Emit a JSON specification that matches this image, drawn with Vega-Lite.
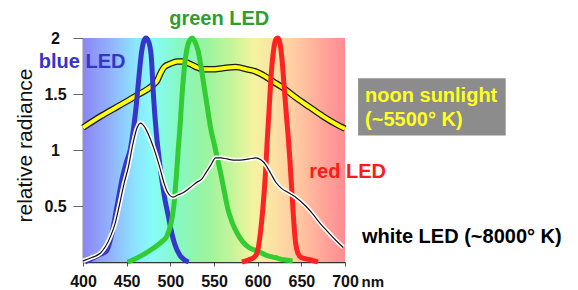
{
  "$schema": "https://vega.github.io/schema/vega-lite/v6.json",
  "autosize": "none",
  "width": 262,
  "height": 224,
  "padding": {"left": 83, "top": 38, "right": 233, "bottom": 28},
  "background": "white",
  "config": {"view": {"stroke": null}, "font": "Liberation Sans"},
  "datasets": {
    "curves": [
      {"s": "blue", "nm": 402, "v": 0}, {"s": "blue", "nm": 410, "v": 0.03}, {"s": "blue", "nm": 420, "v": 0.07}, {"s": "blue", "nm": 427, "v": 0.1}, {"s": "blue", "nm": 433, "v": 0.25}, {"s": "blue", "nm": 439, "v": 0.5}, {"s": "blue", "nm": 445, "v": 0.75}, {"s": "blue", "nm": 450, "v": 0.9}, {"s": "blue", "nm": 454, "v": 1.0}, {"s": "blue", "nm": 458, "v": 1.2}, {"s": "blue", "nm": 461, "v": 1.4}, {"s": "blue", "nm": 464, "v": 1.65}, {"s": "blue", "nm": 467, "v": 1.87}, {"s": "blue", "nm": 470, "v": 1.98}, {"s": "blue", "nm": 472, "v": 2.0}, {"s": "blue", "nm": 475, "v": 1.97}, {"s": "blue", "nm": 478, "v": 1.85}, {"s": "blue", "nm": 481, "v": 1.45}, {"s": "blue", "nm": 484, "v": 1.15}, {"s": "blue", "nm": 486, "v": 1.0}, {"s": "blue", "nm": 490, "v": 0.75}, {"s": "blue", "nm": 494, "v": 0.55}, {"s": "blue", "nm": 498, "v": 0.4}, {"s": "blue", "nm": 501, "v": 0.28}, {"s": "blue", "nm": 505, "v": 0.16}, {"s": "blue", "nm": 511, "v": 0.06}, {"s": "blue", "nm": 516, "v": 0.02}, {"s": "blue", "nm": 521, "v": 0},
      {"s": "green", "nm": 451, "v": 0}, {"s": "green", "nm": 460, "v": 0.03}, {"s": "green", "nm": 470, "v": 0.07}, {"s": "green", "nm": 480, "v": 0.12}, {"s": "green", "nm": 490, "v": 0.18}, {"s": "green", "nm": 496, "v": 0.23}, {"s": "green", "nm": 500, "v": 0.32}, {"s": "green", "nm": 504, "v": 0.5}, {"s": "green", "nm": 507, "v": 0.78}, {"s": "green", "nm": 509, "v": 1.0}, {"s": "green", "nm": 511, "v": 1.2}, {"s": "green", "nm": 514, "v": 1.55}, {"s": "green", "nm": 517, "v": 1.8}, {"s": "green", "nm": 521, "v": 1.96}, {"s": "green", "nm": 525, "v": 2.0}, {"s": "green", "nm": 528, "v": 1.97}, {"s": "green", "nm": 532, "v": 1.88}, {"s": "green", "nm": 535, "v": 1.75}, {"s": "green", "nm": 538, "v": 1.6}, {"s": "green", "nm": 542, "v": 1.4}, {"s": "green", "nm": 546, "v": 1.2}, {"s": "green", "nm": 550, "v": 1.06}, {"s": "green", "nm": 554, "v": 0.92}, {"s": "green", "nm": 558, "v": 0.78}, {"s": "green", "nm": 562, "v": 0.62}, {"s": "green", "nm": 566, "v": 0.47}, {"s": "green", "nm": 571, "v": 0.35}, {"s": "green", "nm": 577, "v": 0.25}, {"s": "green", "nm": 583, "v": 0.18}, {"s": "green", "nm": 590, "v": 0.13}, {"s": "green", "nm": 599, "v": 0.1}, {"s": "green", "nm": 610, "v": 0.06}, {"s": "green", "nm": 620, "v": 0.04}, {"s": "green", "nm": 630, "v": 0.02}, {"s": "green", "nm": 640, "v": 0.01},
      {"s": "red", "nm": 582, "v": 0}, {"s": "red", "nm": 590, "v": 0.02}, {"s": "red", "nm": 597, "v": 0.05}, {"s": "red", "nm": 600, "v": 0.1}, {"s": "red", "nm": 603, "v": 0.25}, {"s": "red", "nm": 606, "v": 0.48}, {"s": "red", "nm": 609, "v": 0.8}, {"s": "red", "nm": 611, "v": 1.09}, {"s": "red", "nm": 613, "v": 1.35}, {"s": "red", "nm": 615, "v": 1.62}, {"s": "red", "nm": 618, "v": 1.88}, {"s": "red", "nm": 621, "v": 1.99}, {"s": "red", "nm": 623, "v": 2.0}, {"s": "red", "nm": 625, "v": 1.97}, {"s": "red", "nm": 628, "v": 1.8}, {"s": "red", "nm": 630, "v": 1.6}, {"s": "red", "nm": 633, "v": 1.3}, {"s": "red", "nm": 635, "v": 1.12}, {"s": "red", "nm": 637, "v": 0.9}, {"s": "red", "nm": 639, "v": 0.65}, {"s": "red", "nm": 641, "v": 0.4}, {"s": "red", "nm": 643, "v": 0.2}, {"s": "red", "nm": 646, "v": 0.08}, {"s": "red", "nm": 650, "v": 0.04}, {"s": "red", "nm": 660, "v": 0.02}, {"s": "red", "nm": 669, "v": 0},
      {"s": "sun", "nm": 400, "v": 1.2}, {"s": "sun", "nm": 420, "v": 1.3}, {"s": "sun", "nm": 440, "v": 1.39}, {"s": "sun", "nm": 460, "v": 1.48}, {"s": "sun", "nm": 480, "v": 1.58}, {"s": "sun", "nm": 485, "v": 1.62}, {"s": "sun", "nm": 489, "v": 1.69}, {"s": "sun", "nm": 493, "v": 1.74}, {"s": "sun", "nm": 500, "v": 1.77}, {"s": "sun", "nm": 508, "v": 1.79}, {"s": "sun", "nm": 515, "v": 1.79}, {"s": "sun", "nm": 522, "v": 1.77}, {"s": "sun", "nm": 530, "v": 1.74}, {"s": "sun", "nm": 538, "v": 1.72}, {"s": "sun", "nm": 548, "v": 1.72}, {"s": "sun", "nm": 560, "v": 1.73}, {"s": "sun", "nm": 575, "v": 1.74}, {"s": "sun", "nm": 588, "v": 1.72}, {"s": "sun", "nm": 598, "v": 1.7}, {"s": "sun", "nm": 608, "v": 1.66}, {"s": "sun", "nm": 618, "v": 1.61}, {"s": "sun", "nm": 630, "v": 1.55}, {"s": "sun", "nm": 645, "v": 1.46}, {"s": "sun", "nm": 660, "v": 1.38}, {"s": "sun", "nm": 675, "v": 1.3}, {"s": "sun", "nm": 690, "v": 1.23}, {"s": "sun", "nm": 700, "v": 1.19},
      {"s": "white", "nm": 400, "v": 0.01}, {"s": "white", "nm": 410, "v": 0.04}, {"s": "white", "nm": 420, "v": 0.08}, {"s": "white", "nm": 431, "v": 0.22}, {"s": "white", "nm": 437, "v": 0.35}, {"s": "white", "nm": 442, "v": 0.52}, {"s": "white", "nm": 447, "v": 0.7}, {"s": "white", "nm": 452, "v": 0.85}, {"s": "white", "nm": 457, "v": 1.05}, {"s": "white", "nm": 462, "v": 1.2}, {"s": "white", "nm": 466, "v": 1.24}, {"s": "white", "nm": 471, "v": 1.2}, {"s": "white", "nm": 477, "v": 1.1}, {"s": "white", "nm": 483, "v": 0.97}, {"s": "white", "nm": 488, "v": 0.84}, {"s": "white", "nm": 493, "v": 0.7}, {"s": "white", "nm": 497, "v": 0.62}, {"s": "white", "nm": 503, "v": 0.58}, {"s": "white", "nm": 509, "v": 0.6}, {"s": "white", "nm": 515, "v": 0.62}, {"s": "white", "nm": 522, "v": 0.66}, {"s": "white", "nm": 530, "v": 0.71}, {"s": "white", "nm": 536, "v": 0.74}, {"s": "white", "nm": 541, "v": 0.8}, {"s": "white", "nm": 546, "v": 0.86}, {"s": "white", "nm": 552, "v": 0.93}, {"s": "white", "nm": 558, "v": 0.93}, {"s": "white", "nm": 565, "v": 0.92}, {"s": "white", "nm": 572, "v": 0.91}, {"s": "white", "nm": 580, "v": 0.91}, {"s": "white", "nm": 590, "v": 0.92}, {"s": "white", "nm": 598, "v": 0.93}, {"s": "white", "nm": 604, "v": 0.91}, {"s": "white", "nm": 609, "v": 0.87}, {"s": "white", "nm": 615, "v": 0.79}, {"s": "white", "nm": 621, "v": 0.71}, {"s": "white", "nm": 627, "v": 0.66}, {"s": "white", "nm": 635, "v": 0.62}, {"s": "white", "nm": 645, "v": 0.57}, {"s": "white", "nm": 655, "v": 0.5}, {"s": "white", "nm": 663, "v": 0.43}, {"s": "white", "nm": 671, "v": 0.35}, {"s": "white", "nm": 679, "v": 0.28}, {"s": "white", "nm": 690, "v": 0.19}, {"s": "white", "nm": 698, "v": 0.13}
    ]
  },
  "layer": [
    {"data": {"values": [{"k": 1}]},
      "mark": {"type": "rect", "fill": {"gradient": "linear", "x1": 0, "y1": 0, "x2": 1, "y2": 0, "stops": [
        {"offset": 0, "color": "#8a86f4"}, {"offset": 0.1, "color": "#92b0fc"}, {"offset": 0.2, "color": "#8ce4ff"}, {"offset": 0.267, "color": "#86fcf8"}, {"offset": 0.367, "color": "#88f8c0"}, {"offset": 0.467, "color": "#98f4a0"}, {"offset": 0.567, "color": "#c4f49a"}, {"offset": 0.65, "color": "#f4f4a0"}, {"offset": 0.733, "color": "#fce0a4"}, {"offset": 0.833, "color": "#ffc4a0"}, {"offset": 0.933, "color": "#ffa098"}, {"offset": 1, "color": "#ff8c94"}]}},
      "encoding": {
        "x": {"datum": 400, "type": "quantitative", "scale": {"domain": [400, 700], "nice": false, "zero": false},
          "axis": {"values": [400, 450, 500, 550, 600, 650, 700], "format": "d", "grid": false, "labelFlush": false, "labelOverlap": false, "domainColor": "#333", "domainWidth": 1.5, "tickColor": "#555", "tickSize": 4, "labelPadding": 7, "labelFont": "Liberation Sans", "labelFontSize": 16, "labelFontWeight": "bold", "labelColor": "#111", "title": "nm", "titleFont": "Liberation Sans", "titleFontSize": 15, "titleFontWeight": "bold", "titleColor": "#111", "titleX": 278, "titleY": 19, "titleAlign": "left", "titleBaseline": "middle", "titleAngle": 0}},
        "x2": {"datum": 700},
        "y": {"datum": 0, "type": "quantitative", "scale": {"domain": [0, 2], "nice": false},
          "axis": {"values": [0.5, 1, 1.5, 2], "format": "~g", "grid": false, "labelFlush": false, "labelOverlap": false, "domainColor": "#223", "domainWidth": 1.5, "tickColor": "#666", "tickSize": 10, "labelAlign": "center", "labelBaseline": "middle", "labelPadding": 18, "labelFont": "Liberation Sans", "labelFontSize": 16, "labelFontWeight": "bold", "labelColor": "#111", "title": "relative radiance", "titleFont": "Liberation Sans", "titleFontSize": 21, "titleFontWeight": "normal", "titleColor": "#111", "titleX": -58, "titleY": 107, "titleAlign": "center", "titleBaseline": "middle", "titleAngle": -90}},
        "y2": {"datum": 2}}},
    {"data": {"name": "curves"}, "transform": [{"filter": "datum.s == 'sun'"}], "mark": {"type": "line", "stroke": "#1a1a1a", "strokeWidth": 6.5, "interpolate": "monotone"},
      "encoding": {"x": {"field": "nm", "type": "quantitative"}, "y": {"field": "v", "type": "quantitative"}}},
    {"data": {"name": "curves"}, "transform": [{"filter": "datum.s == 'sun'"}], "mark": {"type": "line", "stroke": "#ffff10", "strokeWidth": 4, "interpolate": "monotone"},
      "encoding": {"x": {"field": "nm", "type": "quantitative"}, "y": {"field": "v", "type": "quantitative"}}},
    {"data": {"name": "curves"}, "transform": [{"filter": "datum.s == 'blue'"}], "mark": {"type": "line", "stroke": "#3636c8", "strokeWidth": 5, "interpolate": "monotone"},
      "encoding": {"x": {"field": "nm", "type": "quantitative"}, "y": {"field": "v", "type": "quantitative"}}},
    {"data": {"name": "curves"}, "transform": [{"filter": "datum.s == 'green'"}], "mark": {"type": "line", "stroke": "#33cc33", "strokeWidth": 5, "interpolate": "monotone"},
      "encoding": {"x": {"field": "nm", "type": "quantitative"}, "y": {"field": "v", "type": "quantitative"}}},
    {"data": {"name": "curves"}, "transform": [{"filter": "datum.s == 'red'"}], "mark": {"type": "line", "stroke": "#ff2222", "strokeWidth": 5, "interpolate": "monotone"},
      "encoding": {"x": {"field": "nm", "type": "quantitative"}, "y": {"field": "v", "type": "quantitative"}}},
    {"data": {"name": "curves"}, "transform": [{"filter": "datum.s == 'white'"}], "mark": {"type": "line", "stroke": "#ffffff", "strokeWidth": 4.5, "interpolate": "monotone"},
      "encoding": {"x": {"field": "nm", "type": "quantitative"}, "y": {"field": "v", "type": "quantitative"}}},
    {"data": {"name": "curves"}, "transform": [{"filter": "datum.s == 'white'"}], "mark": {"type": "line", "stroke": "#111111", "strokeWidth": 1.2, "interpolate": "monotone"},
      "encoding": {"x": {"field": "nm", "type": "quantitative"}, "y": {"field": "v", "type": "quantitative"}}},
    {"data": {"values": [{"k": 1}]}, "mark": {"type": "text", "text": "blue LED", "font": "Liberation Sans", "fontSize": 20, "fontWeight": "bold", "fill": "#3535c8", "align": "center", "baseline": "middle"},
      "encoding": {"x": {"datum": 399, "type": "quantitative"}, "y": {"datum": 1.79, "type": "quantitative"}}},
    {"data": {"values": [{"k": 1}]}, "mark": {"type": "text", "text": "green LED", "font": "Liberation Sans", "fontSize": 20, "fontWeight": "bold", "fill": "#2e9e2e", "align": "center", "baseline": "middle"},
      "encoding": {"x": {"datum": 556, "type": "quantitative"}, "y": {"datum": 2.166, "type": "quantitative"}}},
    {"data": {"values": [{"k": 1}]}, "mark": {"type": "text", "text": "red LED", "font": "Liberation Sans", "fontSize": 20, "fontWeight": "bold", "fill": "#ff1a1a", "align": "center", "baseline": "middle"},
      "encoding": {"x": {"datum": 703, "type": "quantitative"}, "y": {"datum": 0.807, "type": "quantitative"}}},
    {"data": {"values": [{"k": 1}]}, "mark": {"type": "rect", "fill": "#8c8c8c"},
      "encoding": {"x": {"datum": 715, "type": "quantitative"}, "x2": {"datum": 884}, "y": {"datum": 1.641, "type": "quantitative"}, "y2": {"datum": 1.13}}},
    {"data": {"values": [{"k": 1}]}, "mark": {"type": "text", "text": ["noon sunlight", "(~5500° K)"], "lineHeight": 24, "font": "Liberation Sans", "fontSize": 20, "fontWeight": "bold", "fill": "#ffff22", "align": "left", "baseline": "middle"},
      "encoding": {"x": {"datum": 723, "type": "quantitative"}, "y": {"datum": 1.482, "type": "quantitative"}}},
    {"data": {"values": [{"k": 1}]}, "mark": {"type": "text", "text": "white LED (~8000° K)", "font": "Liberation Sans", "fontSize": 20, "fontWeight": "bold", "fill": "#000000", "align": "left", "baseline": "middle"},
      "encoding": {"x": {"datum": 719.4, "type": "quantitative"}, "y": {"datum": 0.224, "type": "quantitative"}}}
  ]
}
